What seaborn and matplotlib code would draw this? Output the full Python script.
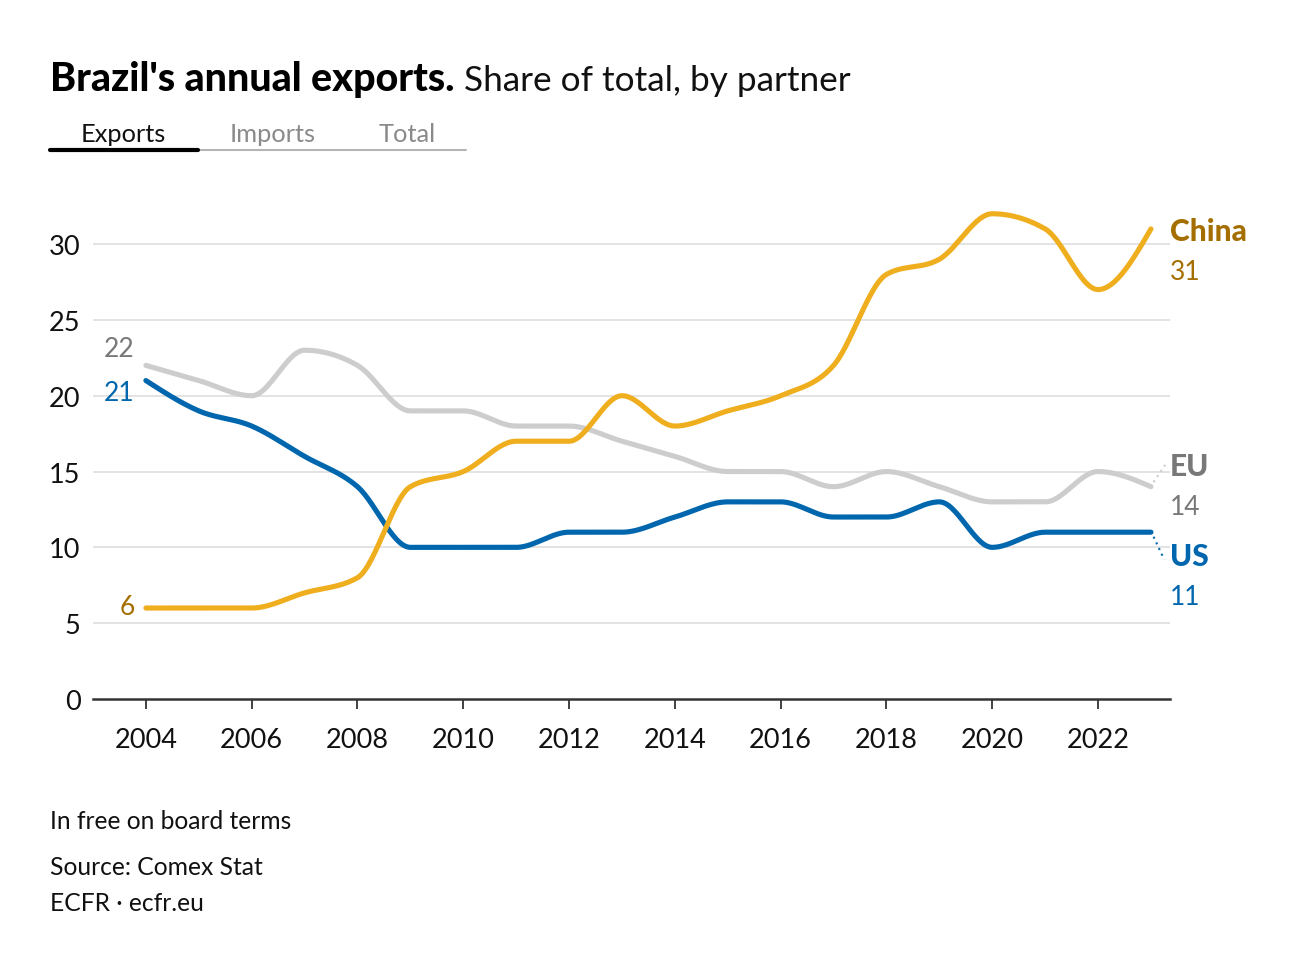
import numpy as np
import pandas as pd
import matplotlib
matplotlib.use("Agg")
import matplotlib.pyplot as plt
import seaborn as sns

years = list(range(2004, 2024))
china = [6, 6, 6, 7, 8, 14, 15, 17, 17, 20, 18, 19, 20, 22, 28, 29, 32, 31, 27, 31]
eu = [22, 21, 20, 23, 22, 19, 19, 18, 18, 17, 16, 15, 15, 14, 15, 14, 13, 13, 15, 14]
us = [21, 19, 18, 16, 14, 10, 10, 10, 11, 11, 12, 13, 13, 12, 12, 13, 10, 11, 11, 11]
series_names = ["EU", "US", "China"]
line_colors = {"China": "#efae1e", "EU": "#cdcdcd", "US": "#0066ad"}
label_colors = {"China": "#a56e00", "EU": "#787878", "US": "#0066ad"}
tabs = ["Exports", "Imports", "Total"]
y_ticks = [0, 5, 10, 15, 20, 25, 30]
x_ticks = list(range(2004, 2023, 2))


def monotone_x(x, y, n=30):
    """Render-only d3 curveMonotoneX path through the data points."""
    x = np.asarray(x, float); y = np.asarray(y, float)
    h = np.diff(x); s = np.diff(y) / h
    t = np.zeros_like(y)
    for i in range(1, len(x) - 1):
        h0, h1 = h[i - 1], h[i]
        s0, s1 = s[i - 1], s[i]
        p = (s0 * h1 + s1 * h0) / (h0 + h1)
        t[i] = (np.sign(s0) + np.sign(s1)) * min(abs(s0), abs(s1), 0.5 * abs(p))
    t[0] = (3 * s[0] - t[1]) / 2
    t[-1] = (3 * s[-1] - t[-2]) / 2
    xs, ys = [], []
    for i in range(len(x) - 1):
        u = np.linspace(0, 1, n, endpoint=(i == len(x) - 2))
        dx = h[i]
        h00 = 2 * u**3 - 3 * u**2 + 1
        h10 = u**3 - 2 * u**2 + u
        h01 = -2 * u**3 + 3 * u**2
        h11 = u**3 - u**2
        xs.append(x[i] + u * dx)
        ys.append(h00 * y[i] + h10 * dx * t[i] + h01 * y[i + 1] + h11 * dx * t[i + 1])
    return np.concatenate(xs), np.concatenate(ys)


data = {"China": china, "EU": eu, "US": us}
frames = []
for name in series_names:
    sx, sy = monotone_x(years, data[name])
    frames.append(pd.DataFrame({"year": sx, "share": sy, "partner": name}))
df = pd.concat(frames, ignore_index=True)

sns.set_theme(style="white")
plt.rcParams["font.family"] = ["Lato", "DejaVu Sans"]

fig = plt.figure(figsize=(13, 9.7), dpi=100)
ax = fig.add_axes([93 / 1300, 1 - 700 / 970, (1170 - 93) / 1300, (700 - 192) / 970])

for y in y_ticks[1:]:
    ax.axhline(y, color="#e3e3e3", lw=1.4, zorder=0)

sns.lineplot(data=df, x="year", y="share", hue="partner", palette=line_colors,
             hue_order=series_names, estimator=None, sort=False, lw=3.7,
             legend=False, ax=ax, solid_capstyle="round")

ax.set_xlim(2003.0, 2023.36)
ax.set_ylim(0, 33.5)
ax.set_xticks(x_ticks)
ax.set_yticks(y_ticks)
ax.set_xlabel("")
ax.set_ylabel("")
for sp in ["top", "right", "left"]:
    ax.spines[sp].set_visible(False)
ax.spines["bottom"].set_color("#333333")
ax.spines["bottom"].set_linewidth(1.8)
ax.tick_params(axis="x", length=7, width=1.3, color="#333333", pad=13,
               labelsize=19.5, labelcolor="#111111", direction="out", bottom=True)
ax.tick_params(axis="y", length=0, pad=9, labelsize=19.5, labelcolor="#111111")

# end labels
last = {"China": china[-1], "EU": eu[-1], "US": us[-1]}
end_pos = {"China": (30.85, 28.2), "EU": (15.36, 12.72), "US": (9.43, 6.79)}
for name in ["China", "EU", "US"]:
    yn, yv = end_pos[name]
    ax.text(2023.36, yn, name, color=label_colors[name], fontsize=21.5,
            fontweight="black", ha="left", va="center", clip_on=False)
    ax.text(2023.36, yv, str(last[name]), color=label_colors[name], fontsize=19,
            ha="left", va="center", clip_on=False)
# dotted leaders
ax.plot([2023.05, 2023.3], [14.3, 15.6], ls=(0, (1, 2)), color=line_colors["EU"], lw=1.5, clip_on=False)
ax.plot([2023.05, 2023.25], [10.7, 9.2], ls=(0, (1, 2)), color=line_colors["US"], lw=1.5, clip_on=False)

# start labels
start_pos = {"EU": 23.1, "US": 20.2, "China": 6.1}
for name in ["EU", "US", "China"]:
    ax.annotate(str(data[name][0]), xy=(2004, start_pos[name]), xytext=(-8, 0),
                textcoords="offset points", ha="right", va="center",
                color=label_colors[name], fontsize=19)

# title
t1 = fig.text(50 / 1300, 1 - 91 / 970, "Brazil's annual exports.", fontsize=28.4,
              fontweight="black", color="#000000", ha="left", va="baseline")
fig.canvas.draw()
bb = t1.get_window_extent(renderer=fig.canvas.get_renderer())
fig.text((bb.x1 + 10) / 1300, 1 - 91 / 970, "Share of total, by partner", fontsize=25.3,
         color="#111111", ha="left", va="baseline")

# tabs
tab_x = [123, 273, 407]
for i, (lab, tx) in enumerate(zip(tabs, tab_x)):
    fig.text(tx / 1300, 1 - 142 / 970, lab, fontsize=18.3, ha="center", va="baseline",
             color="#111111" if i == 0 else "#8a8a8a")
fig.add_artist(plt.Line2D([198 / 1300, 466 / 1300], [1 - 151 / 970] * 2, color="#b5b5b5", lw=1.5))
fig.add_artist(plt.Line2D([50 / 1300, 198 / 1300], [1 - 151 / 970] * 2, color="#000000", lw=3))

# footer
fig.text(50 / 1300, 1 - 829 / 970, "In free on board terms", fontsize=17.7, color="#111111", va="baseline")
fig.text(50 / 1300, 1 - 875 / 970, "Source: Comex Stat", fontsize=17.7, color="#111111", va="baseline")
fig.text(50 / 1300, 1 - 911 / 970, "ECFR · ecfr.eu", fontsize=17.7, color="#111111", va="baseline")

fig.savefig("out.png", dpi=100, facecolor="white")
